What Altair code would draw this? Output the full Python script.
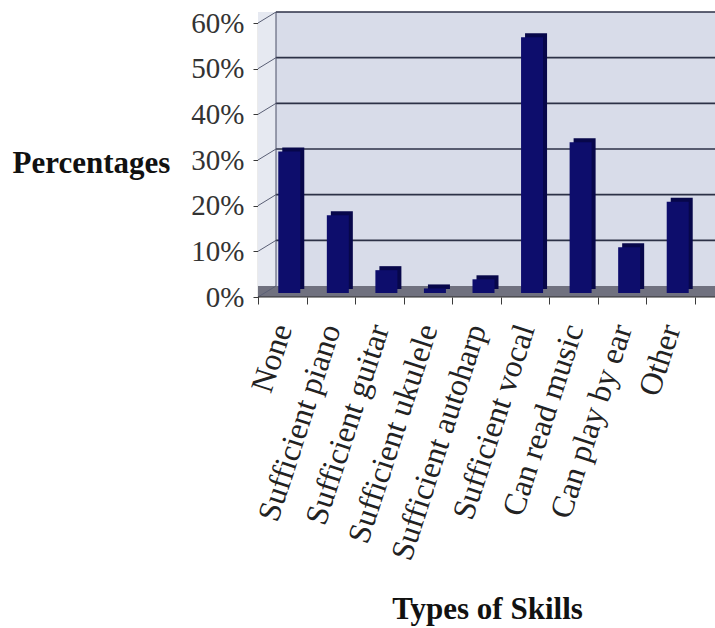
import altair as alt
import pandas as pd

# Survey results: musical skills reported by respondents (multiple answers allowed)
skills = [
    "None",
    "Sufficient piano",
    "Sufficient guitar",
    "Sufficient ukulele",
    "Sufficient autoharp",
    "Sufficient vocal",
    "Can read music",
    "Can play by ear",
    "Other",
]
percent = [31, 17, 5, 1, 3, 56, 33, 10, 20]
y_ticks = [0, 10, 20, 30, 40, 50, 60]

bars_df = pd.DataFrame({"skill": skills, "pct": percent})
grid_df = pd.DataFrame({"pct": y_ticks})
box_df = pd.DataFrame({"lo": [0], "hi": [60]})

W, H = 457, 285          # plot area
BAND_END = 437           # where the category axis ends
DX, DY = 18, 11          # depth of the 3-D box
SERIF = "Liberation Serif"

y_scale = alt.Scale(domain=[0, 60], range=[H, DY], nice=False, zero=True)
y_axis = alt.Axis(
    values=y_ticks,
    format=".0f",
    labelExpr="datum.value + '%'",
    grid=False,
    domain=True,
    domainColor="#3a3a3a",
    domainWidth=1.2,
    ticks=True,
    tickSize=5,
    tickColor="#3a3a3a",
    labelFont=SERIF,
    labelFontSize=29,
    labelColor="#333333",
    labelPadding=9,
    title="Percentages",
    titleFont=SERIF,
    titleFontSize=31,
    titleFontWeight="bold",
    titleColor="#111111",
    titleAngle=0,
    titleAlign="left",
    titleBaseline="alphabetic",
    titleX=-246,
    titleY=160,
)

base_box = alt.Chart(box_df)

# back wall
wall = base_box.mark_rect(color="#d8dce9", yOffset=-DY, y2Offset=-DY).encode(
    x=alt.value(DX), x2=alt.value(W),
    y=alt.Y("lo:Q", scale=y_scale, axis=y_axis), y2="hi:Q",
)
# left side wall
side = base_box.mark_rect(color="#e6e9f1", y2Offset=-DY).encode(
    x=alt.value(0), x2=alt.value(DX),
    y=alt.Y("lo:Q", scale=y_scale, axis=y_axis), y2="hi:Q",
)
# floor
floor = base_box.mark_rect(color="#70717f", y2Offset=-DY).encode(
    x=alt.value(0), x2=alt.value(W),
    y=alt.Y("lo:Q", scale=y_scale, axis=y_axis), y2="lo:Q",
)

# gridlines on the back wall
grid = alt.Chart(grid_df).transform_filter("datum.pct > 0").mark_rule(
    color="#2c3146", strokeWidth=1.6, yOffset=-DY
).encode(
    x=alt.value(DX), x2=alt.value(W),
    y=alt.Y("pct:Q", scale=y_scale, axis=y_axis),
)
# slanted lines across the side wall
slants = alt.Chart(grid_df).mark_rule(
    color="#5a5f75", strokeWidth=1, y2Offset=-DY
).encode(
    x=alt.value(0), x2=alt.value(DX),
    y=alt.Y("pct:Q", scale=y_scale, axis=y_axis), y2="pct:Q",
)
# back corner edge
corner = base_box.mark_rule(color="#4a4f66", strokeWidth=1, yOffset=-DY, y2Offset=-DY).encode(
    x=alt.value(DX),
    y=alt.Y("lo:Q", scale=y_scale, axis=y_axis), y2="hi:Q",
)

x_enc = alt.X(
    "skill:N",
    sort=skills,
    scale=alt.Scale(range=[0, BAND_END], paddingInner=0, paddingOuter=0),
    axis=alt.Axis(
        domain=False,
        ticks=True,
        tickBand="extent",
        tickSize=7,
        tickColor="#3a3a3a",
        labelAngle=-72,
        labelAlign="right",
        labelBaseline="middle",
        labelFont=SERIF,
        labelFontSize=32,
        labelColor="#222222",
        labelPadding=21,
        labelOffset=0,
        labelLimit=400,
        title="Types of Skills",
        titleFont=SERIF,
        titleFontSize=31,
        titleFontWeight="bold",
        titleColor="#111111",
        titleX=229,
        titleY=321,
        titleAlign="center",
        titleBaseline="alphabetic",
    ),
)

bar_base = alt.Chart(bars_df)
# depth of each bar (side and top faces)
bar_depth = bar_base.mark_bar(color="#07074a", width=22, xOffset=11, yOffset=-8).encode(
    x=x_enc,
    y=alt.Y("pct:Q", scale=y_scale, axis=y_axis),
)
# front face of each bar
bar_front = bar_base.mark_bar(color="#0d0d6c", width=22, xOffset=7, yOffset=-4).encode(
    x=x_enc,
    y=alt.Y("pct:Q", scale=y_scale, axis=y_axis),
)

# front edge of the floor
baseline = base_box.mark_rule(color="#2a2a2a", strokeWidth=1.2).encode(
    x=alt.value(0), x2=alt.value(W),
    y=alt.Y("lo:Q", scale=y_scale, axis=y_axis),
)

chart = (
    alt.layer(wall, side, floor, grid, slants, corner, bar_depth, bar_front, baseline)
    .properties(
        width=W,
        height=H,
        autosize=alt.AutoSizeParams(type="none"),
        padding={"left": 258, "top": 12, "right": 0, "bottom": 331},
        background="white",
    )
    .configure_view(stroke=None)
)

chart.save("out.html", embed_options={"renderer": "svg", "actions": False})
